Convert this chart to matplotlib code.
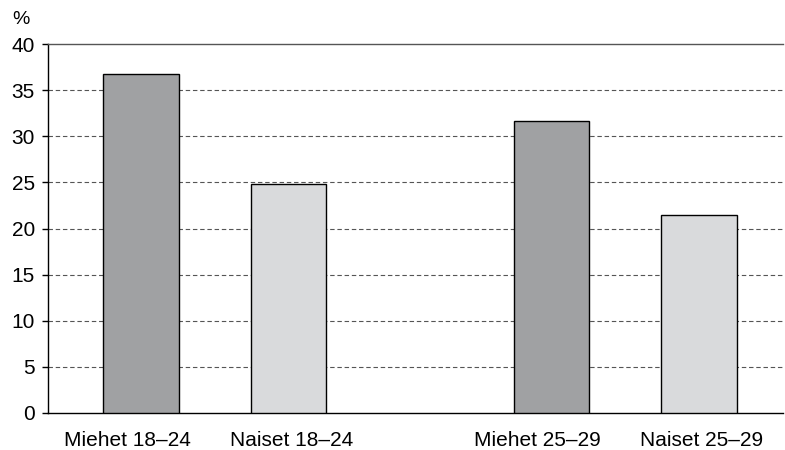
from matplotlib import pyplot as plt
from matplotlib.transforms import ScaledTranslation
import numpy as np

# data
labels = ['Miehet 18–24', 'Naiset 18–24', 'Miehet 25–29', 'Naiset 25–29']
values = [36.7, 24.8, 31.7, 21.5]
positions = [0, 1, 2.78, 3.78]
colors = ['#a0a1a3', '#d9dadc', '#a0a1a3', '#d9dadc']
yticks = [0, 5, 10, 15, 20, 25, 30, 35, 40]

plt.rcParams['font.family'] = ['Liberation Sans', 'DejaVu Sans']

fig = plt.figure(figsize=(7.85, 4.5), dpi=100)
ax = fig.add_axes([48 / 785, 37 / 450, (783 - 48) / 785, (413 - 44) / 450])

ax.bar(positions, values, width=0.51, color=colors, edgecolor='black', linewidth=1.0, zorder=3)

ax.set_ylim(0, 40)
ax.set_xlim(-0.63, 4.35)
ax.set_yticks(yticks)
ax.set_xticks(positions)
ax.set_xticklabels(labels)

# dashed grid lines for the inner ticks
for y in yticks[1:-1]:
    ax.axhline(y, color='#555555', linestyle=(0, (4, 2.5)), linewidth=0.8, zorder=1)

ax.spines['right'].set_visible(False)
ax.spines['top'].set_color('#555555')
ax.spines['top'].set_linewidth(1.0)
ax.spines['left'].set_linewidth(1.0)
ax.spines['bottom'].set_linewidth(1.0)

ax.tick_params(axis='y', length=4.5, width=1.0, pad=5, labelsize=15, colors='black')
ax.tick_params(axis='x', length=0, pad=13, labelsize=15)

# the labels in the original are not quite centred under the bars
shifts = [-14, 3, -14, 3]
for lab, dx in zip(ax.get_xticklabels(), shifts):
    lab.set_transform(lab.get_transform() + ScaledTranslation(dx / 100, 0, fig.dpi_scale_trans))

fig.text(12 / 785, 1 - 28 / 450, '%', fontsize=14, ha='left', va='bottom')

plt.savefig('out.png', dpi=100)
